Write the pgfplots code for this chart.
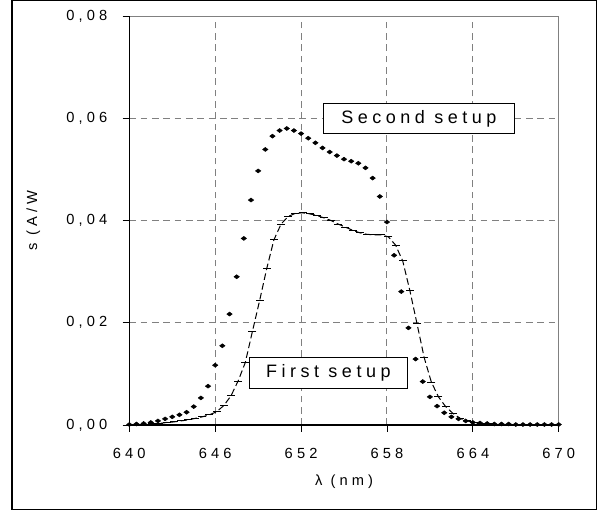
\documentclass[border=0pt]{standalone}
\usepackage{fontspec}
\usepackage{pgfplots}
\pgfplotsset{compat=1.18}
\setmainfont{Liberation Sans}
\newfontfamily\tickfont[LetterSpace=28]{Liberation Sans}
\newfontfamily\boxfont[LetterSpace=25]{Liberation Sans}

\pgfplotstableread{
x y
640.0 0.0001
640.5 0.0002
641.0 0.0003
641.5 0.0005
642.0 0.0008
642.5 0.0012
643.0 0.0016
643.5 0.0020
644.0 0.0025
644.5 0.0036
645.0 0.0053
645.5 0.0076
646.0 0.0117
646.5 0.0155
647.0 0.0217
647.5 0.0290
648.0 0.0365
648.5 0.0440
649.0 0.0497
649.5 0.0539
650.0 0.0565
650.5 0.0576
651.0 0.0580
651.5 0.0576
652.0 0.0570
652.5 0.0561
653.0 0.0552
653.5 0.0542
654.0 0.0534
654.5 0.0527
655.0 0.0520
655.5 0.0516
656.0 0.0512
656.5 0.0503
657.0 0.0483
657.5 0.0447
658.0 0.0397
658.5 0.0332
659.0 0.0261
659.5 0.0190
660.0 0.0129
660.5 0.0085
661.0 0.0055
661.5 0.0037
662.0 0.0024
662.5 0.0016
663.0 0.0012
663.5 0.0008
664.0 0.0005
664.5 0.0004
665.0 0.0003
665.5 0.0002
666.0 0.0002
666.5 0.0002
667.0 0.0001
667.5 0.0001
668.0 0.0001
668.5 0.0001
669.0 0.0001
669.5 0.0001
670.0 0.0001
}\secondsetup

\pgfplotstableread{
x y
640.1 0.0000
640.6 0.0000
641.1 0.0001
641.6 0.0002
642.1 0.0003
642.6 0.0005
643.1 0.0006
643.6 0.0008
644.1 0.0010
644.6 0.0013
645.1 0.0016
645.6 0.0020
646.1 0.0026
646.6 0.0038
647.1 0.0057
647.6 0.0086
648.1 0.0122
648.6 0.0183
649.1 0.0243
649.6 0.0306
650.1 0.0362
650.6 0.0393
651.1 0.0408
651.6 0.0414
652.1 0.0415
652.6 0.0413
653.1 0.0410
653.6 0.0405
654.1 0.0400
654.6 0.0393
655.1 0.0387
655.6 0.0381
656.1 0.0376
656.6 0.0373
657.1 0.0372
657.6 0.0372
658.1 0.0368
658.6 0.0352
659.1 0.0321
659.6 0.0263
660.1 0.0198
660.6 0.0132
661.1 0.0084
661.6 0.0055
662.1 0.0036
662.6 0.0023
663.1 0.0013
663.6 0.0008
664.1 0.0005
664.6 0.0003
665.1 0.0002
665.6 0.0001
666.1 0.0001
666.6 0.0001
667.1 0.0000
667.6 0.0000
668.1 0.0000
668.6 0.0000
669.1 0.0000
669.6 0.0000
}\firstsetup

\begin{document}
\begin{tikzpicture}
\begin{axis}[
    at={(0,0)}, anchor=south west,
    scale only axis,
    width=322.05pt, height=306.75pt,
    xmin=640, xmax=670, ymin=0, ymax=0.08,
    xtick={640,646,652,658,664,670},
    ytick={0,0.02,0.04,0.06,0.08},
    scaled y ticks=false,
    xtick pos=bottom, ytick pos=left,
    tick align=outside,
    major tick length=5pt,
    tick style={black, line width=0.6pt},
    axis line style={gray, line width=0.75pt},
    grid=major,
    major grid style={gray, line width=0.75pt, dash pattern=on 5pt off 3.5pt},
    /pgf/number format/assume math mode=true,
    yticklabel style={/pgf/number format/use comma, /pgf/number format/fixed,
        /pgf/number format/fixed zerofill, /pgf/number format/precision=2,
        xshift=-8pt},
    xticklabel style={/pgf/number format/fixed, /pgf/number format/precision=0,
        yshift=-9pt},
    ticklabel style={font=\tickfont\fontsize{11}{13}\selectfont},
    xlabel={λ (nm)},
    ylabel={s (A/W},
    xlabel style={font=\tickfont\fontsize{11}{13}\selectfont, at={(axis description cs:0.5,0)}, anchor=center, yshift=-42.5pt},
    ylabel style={font=\tickfont\fontsize{11}{13}\selectfont, at={(axis description cs:0,0.5)}, anchor=center, yshift=72pt},
    clip=false,
]
\addplot[black, line width=0.75pt, dash pattern=on 5pt off 2.5pt,
    mark=-, mark size=3pt, mark options={solid, line width=0.75pt}]
    table[x=x, y=y] {\firstsetup};
\addplot[only marks, black, mark=diamond*, mark size=2pt,
    mark options={rotate=90}]
    table[x=x, y=y] {\secondsetup};
\draw[black, line width=1pt] (rel axis cs:0,0) -- (rel axis cs:0,1);
\draw[black, line width=1pt] (rel axis cs:0,0) -- (rel axis cs:1,0);
\node[draw=black, fill=white, line width=0.75pt, minimum width=143pt, minimum height=22.3pt,
    inner sep=0pt, font=\boxfont\fontsize{13.5}{15}\selectfont]
    at (axis cs:660.23,0.0599) {Second setup};
\node[draw=black, fill=white, line width=0.75pt, minimum width=118.5pt, minimum height=23.25pt,
    inner sep=0pt, font=\boxfont\fontsize{13.5}{15}\selectfont]
    at (axis cs:653.9,0.0102) {First setup};
\end{axis}
\path (-96.98pt,-63.75pt) rectangle (354.5pt,318.75pt);
\draw[black, line width=1pt] (-87.98pt,-63.25pt) rectangle (350.4pt,318.25pt);
\end{tikzpicture}
\end{document}
